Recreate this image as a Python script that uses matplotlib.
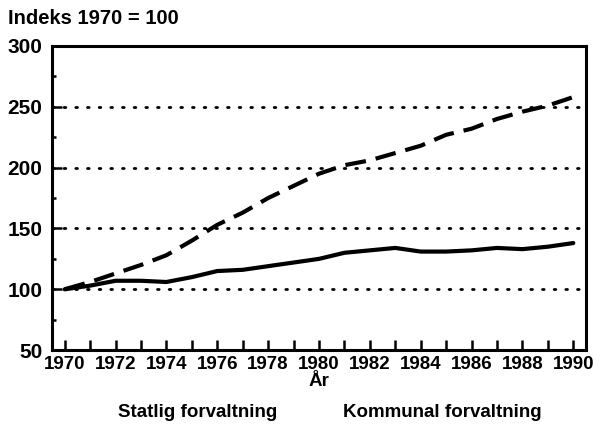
import matplotlib
matplotlib.use("Agg")
import matplotlib.pyplot as plt
from matplotlib.ticker import MultipleLocator

plt.rcParams['font.family'] = ['Liberation Sans', 'DejaVu Sans']

years = list(range(1970, 1991))
statlig = [100, 103, 107, 107, 106, 110, 115, 116, 119, 122, 125, 130, 132, 134, 131, 131, 132, 134, 133, 135, 138]
kommunal = [100, 106, 113, 120, 128, 140, 153, 163, 175, 185, 195, 202, 206, 212, 218, 227, 232, 240, 246, 251, 258]
xticks = list(range(1970, 1991, 2))
yticks = [50, 100, 150, 200, 250, 300]
gridvals = [100, 150, 200, 250]

fig = plt.figure(figsize=(5.94, 4.36), dpi=100)
ax = fig.add_axes([0.0875, 0.197, 0.899, 0.6975])

for g in gridvals:
    ax.axhline(g, color='black', lw=2.0, linestyle=(0, (0.6, 3.6)),
               dash_capstyle='round', zorder=1)

l1, = ax.plot(years, statlig, color='black', lw=3.0, solid_capstyle='round',
              solid_joinstyle='round', label='Statlig forvaltning', zorder=3)
l2, = ax.plot(years, kommunal, color='black', lw=3.0, dashes=(5, 2.4),
              dash_capstyle='butt', label='Kommunal forvaltning', zorder=3)

ax.set_xlim(1969.5, 1990.5)
ax.set_ylim(50, 300)
ax.set_xticks(xticks)
ax.set_xticks(years, minor=True)
ax.set_yticks(yticks)
ax.yaxis.set_minor_locator(MultipleLocator(25))

for s in ax.spines.values():
    s.set_linewidth(2.2)

ax.tick_params(axis='x', which='both', direction='in', length=7, width=1.8,
               labelsize=13.5, pad=4)
ax.tick_params(axis='y', which='major', direction='in', length=7, width=1.8,
               labelsize=15, pad=7)
ax.tick_params(axis='y', which='minor', direction='in', length=3, width=1.8)
for lab in ax.get_xticklabels() + ax.get_yticklabels():
    lab.set_fontweight('bold')

ax.set_xlabel('År', fontsize=13.5, fontweight='bold', labelpad=0)
fig.text(0.013, 0.958, 'Indeks 1970 = 100', fontsize=14.5, fontweight='bold',
         ha='left', va='center')

leg = fig.legend(handles=[l1, l2], loc='center', bbox_to_anchor=(0.555, 0.055),
                 ncol=2, frameon=False, handlelength=0, handletextpad=0,
                 columnspacing=3.5, prop={'size': 13.5, 'weight': 'bold'})
for h in leg.legend_handles:
    h.set_visible(False)

fig.savefig('out.png', dpi=100)
